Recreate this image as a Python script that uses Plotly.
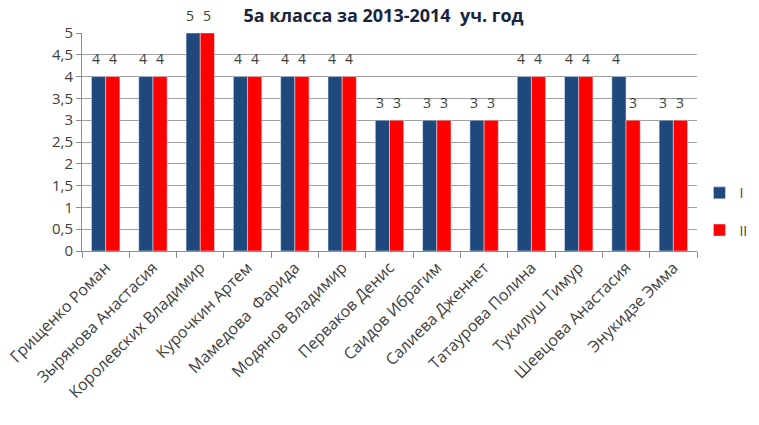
import plotly.graph_objects as go

categories = ["Грищенко Роман", "Зырянова Анастасия", "Королевских Владимир", "Курочкин Артем",
              "Мамедова  Фарида", "Модянов Владимир", "Перваков Денис", "Саидов Ибрагим",
              "Салиева Дженнет", "Татаурова Полина", "Тукилуш Тимур", "Шевцова Анастасия",
              "Энукидзе Эмма"]
series_I = [4, 4, 5, 4, 4, 4, 3, 3, 3, 4, 4, 4, 3]
series_II = [4, 4, 5, 4, 4, 4, 3, 3, 3, 4, 4, 3, 3]
y_ticks = [0, 0.5, 1, 1.5, 2, 2.5, 3, 3.5, 4, 4.5, 5]
y_tick_labels = ["0", "0,5", "1", "1,5", "2", "2,5", "3", "3,5", "4", "4,5", "5"]

FONT = "Open Sans"
fig = go.Figure()
fig.add_trace(go.Bar(x=categories, y=series_I, name="I", marker_color="#1F497D", legendgroup="a"))
fig.add_trace(go.Bar(x=categories, y=series_II, name="II", marker_color="#FF0000", legendgroup="b"))

for cat, v in zip(categories, series_I):
    fig.add_annotation(x=cat, y=v, text=str(v), showarrow=False, xshift=-10, yshift=18,
                       font=dict(family=FONT, size=14, color="#404040"))
for cat, v in zip(categories, series_II):
    fig.add_annotation(x=cat, y=v, text=str(v), showarrow=False, xshift=7, yshift=18,
                       font=dict(family=FONT, size=14, color="#404040"))

fig.update_layout(
    width=751, height=417,
    margin=dict(l=74, r=62, t=25, b=174, autoexpand=False),
    paper_bgcolor="white", plot_bgcolor="white",
    barmode="group", bargap=0.4, bargroupgap=0,
    title=dict(text="<b>5а класса за 2013-2014  уч. год</b>", x=0.5, xanchor="center",
               y=0.982, yanchor="middle",
               font=dict(family=FONT, size=18, color="#17253F")),
    font=dict(family=FONT, size=14, color="#404040"),
    legend=dict(x=1.004, xanchor="left", y=0.18, yanchor="middle", tracegroupgap=16,
                itemwidth=30,
                font=dict(family=FONT, size=14, color="#404040"), bgcolor="rgba(0,0,0,0)"),
    xaxis=dict(tickangle=-45, showline=True, linecolor="#8C8C8C", linewidth=1,
               ticks="outside", tickson="boundaries", ticklen=6, tickcolor="#8C8C8C",
               tickfont=dict(family=FONT, size=16, color="#404040"), showgrid=False,
               automargin=False),
    yaxis=dict(range=[0, 5], tickvals=y_ticks, ticktext=y_tick_labels, showgrid=True,
               gridcolor="#A0A0A0", gridwidth=1, showline=True, linecolor="#8C8C8C",
               ticks="outside", ticklen=5, tickcolor="#8C8C8C", zeroline=False,
               automargin=False,
               tickfont=dict(family=FONT, size=15, color="#404040")),
)
fig.write_html("out.html")
